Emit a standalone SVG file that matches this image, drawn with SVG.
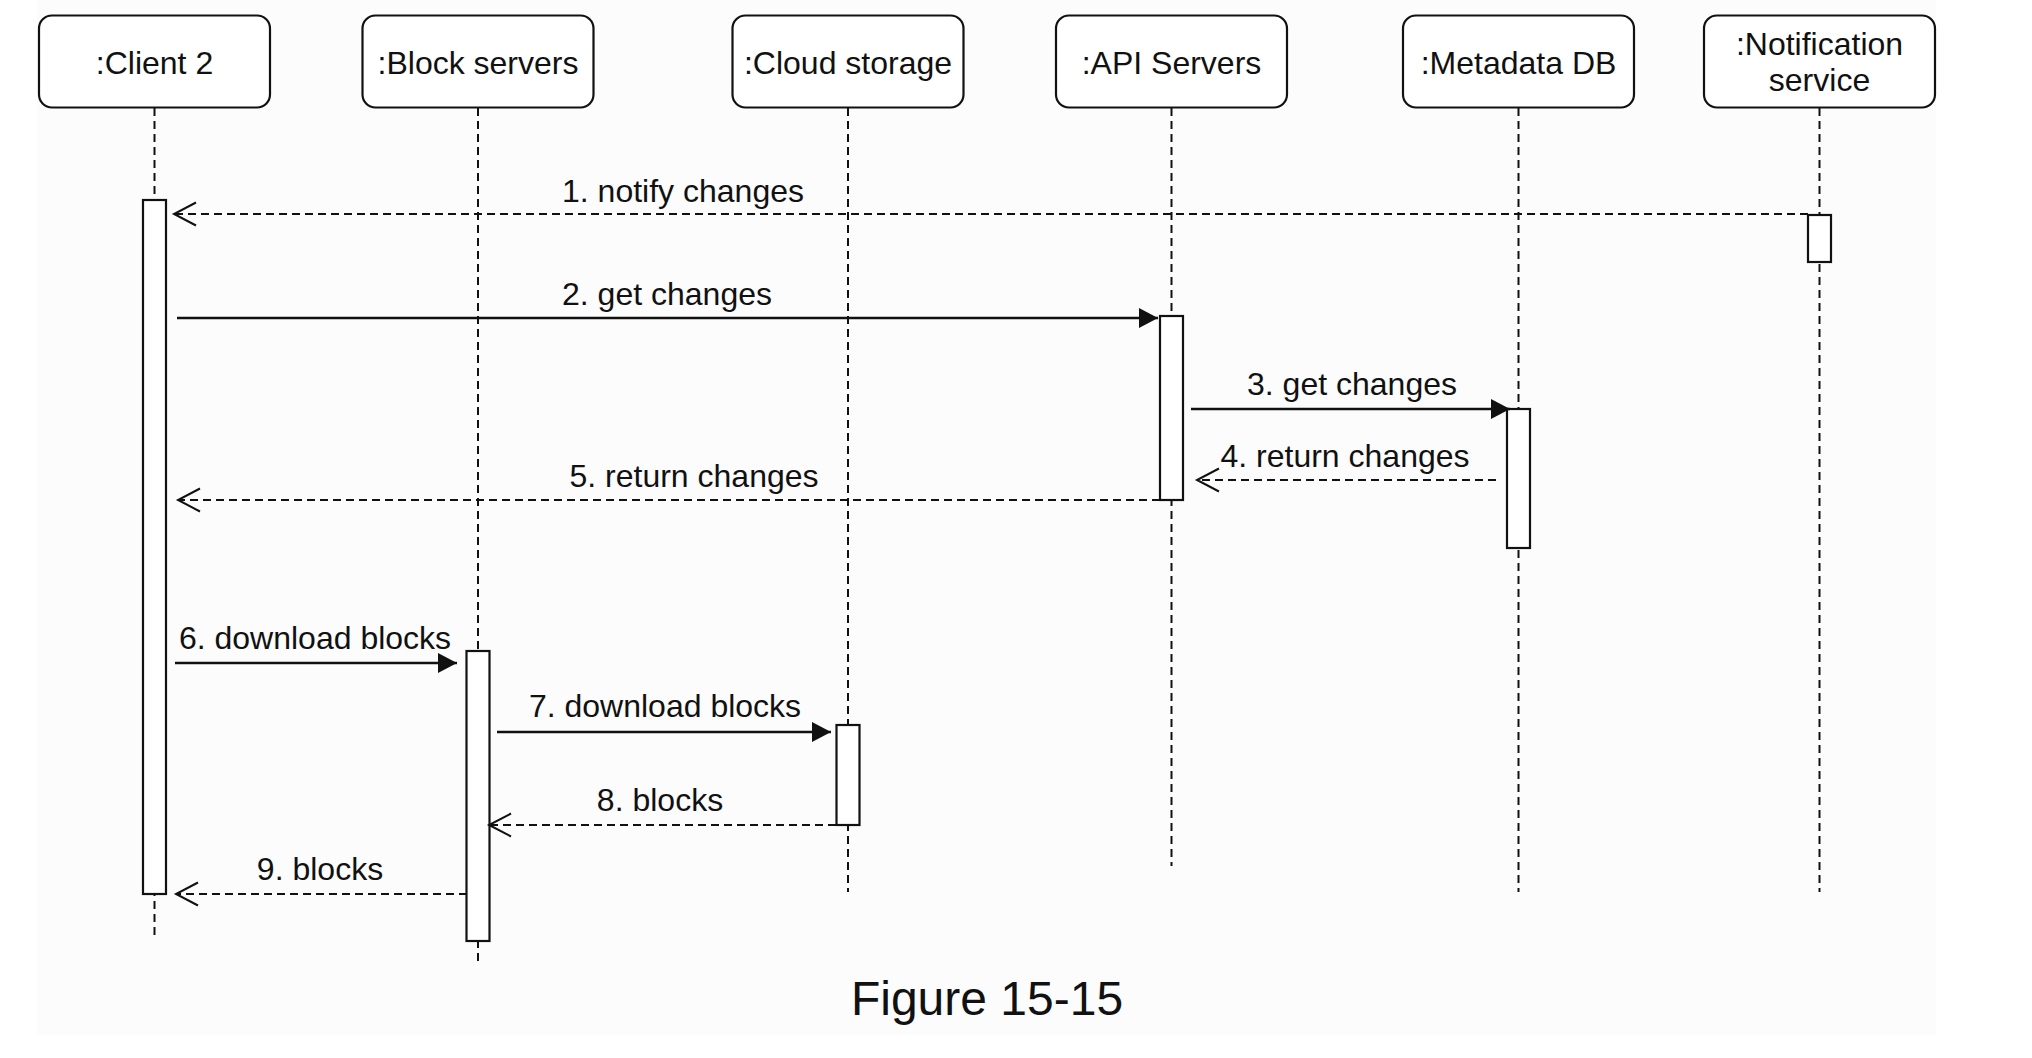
<svg xmlns="http://www.w3.org/2000/svg" width="2032" height="1058" viewBox="0 0 2032 1058">
  <style>
    .box { fill: #ffffff; stroke: #111; stroke-width: 2.2; }
    .act { fill: #ffffff; stroke: #111; stroke-width: 2.2; }
    .life { fill: none; stroke: #111; stroke-width: 2; stroke-dasharray: 8 5; }
    .msg { fill: none; stroke: #111; stroke-width: 2.6; }
    .ret { fill: none; stroke: #111; stroke-width: 2; stroke-dasharray: 8 5; }
    .lbl { font-family: "Liberation Sans", Arial, sans-serif; font-size: 32px; fill: #111; text-anchor: middle; }
    .cap { font-family: "Liberation Sans", Arial, sans-serif; font-size: 48px; fill: #111; text-anchor: middle; }
  </style>
  <defs>
    <marker id="filled" markerUnits="userSpaceOnUse" markerWidth="22" markerHeight="24" refX="20" refY="12" orient="auto" overflow="visible">
      <path d="M1,2 L20,12 L1,22 z" fill="#111" stroke="none"/>
    </marker>
    <marker id="open" markerUnits="userSpaceOnUse" markerWidth="26" markerHeight="28" refX="23" refY="14" orient="auto" overflow="visible">
      <path d="M1,2.5 L23,14 L1,25.5" fill="none" stroke="#111" stroke-width="2" stroke-dasharray="none"/>
    </marker>
  </defs>

  <rect x="0" y="0" width="2032" height="1058" fill="#ffffff"/>
  <rect x="37" y="0" width="1899" height="1035" fill="#fcfcfc"/>

  <g id="lifelines">
    <line class="life" x1="154.5" y1="108" x2="154.5" y2="936"/>
    <line class="life" x1="478" y1="108" x2="478" y2="962"/>
    <line class="life" x1="848" y1="108" x2="848" y2="892"/>
    <line class="life" x1="1171.5" y1="108" x2="1171.5" y2="866"/>
    <line class="life" x1="1518.5" y1="108" x2="1518.5" y2="892"/>
    <line class="life" x1="1819.5" y1="108" x2="1819.5" y2="892"/>
  </g>

  <g id="node-client2">
    <rect class="box" x="39" y="15.5" width="231" height="92" rx="13"/>
    <text class="lbl" x="154.5" y="74">:Client 2</text>
  </g>
  <g id="node-block-servers">
    <rect class="box" x="362.5" y="15.5" width="231" height="92" rx="13"/>
    <text class="lbl" x="478" y="74">:Block servers</text>
  </g>
  <g id="node-cloud-storage">
    <rect class="box" x="732.5" y="15.5" width="231" height="92" rx="13"/>
    <text class="lbl" x="848" y="74">:Cloud storage</text>
  </g>
  <g id="node-api-servers">
    <rect class="box" x="1056" y="15.5" width="231" height="92" rx="13"/>
    <text class="lbl" x="1171.5" y="74">:API Servers</text>
  </g>
  <g id="node-metadata-db">
    <rect class="box" x="1403" y="15.5" width="231" height="92" rx="13"/>
    <text class="lbl" x="1518.5" y="74">:Metadata DB</text>
  </g>
  <g id="node-notification-service">
    <rect class="box" x="1704" y="15.5" width="231" height="92" rx="13"/>
    <text class="lbl" x="1819.5" y="55">:Notification</text>
    <text class="lbl" x="1819.5" y="91">service</text>
  </g>

  <g id="activations">
    <rect class="act" x="143" y="200" width="23" height="694"/>
    <rect class="act" x="1808" y="215" width="23" height="47"/>
    <rect class="act" x="1160" y="316" width="23" height="184"/>
    <rect class="act" x="1507" y="409" width="23" height="139"/>
    <rect class="act" x="466.5" y="651" width="23" height="290"/>
    <rect class="act" x="836.5" y="725" width="23" height="100"/>
  </g>

  <g id="connectors">
    <line class="ret" x1="1808" y1="214" x2="174" y2="214" marker-end="url(#open)"/>
    <text class="lbl" x="683" y="202">1. notify changes</text>

    <line class="msg" x1="177" y1="318" x2="1158" y2="318" marker-end="url(#filled)"/>
    <text class="lbl" x="667" y="305">2. get changes</text>

    <line class="msg" x1="1191" y1="409" x2="1510" y2="409" marker-end="url(#filled)"/>
    <text class="lbl" x="1352" y="395">3. get changes</text>

    <line class="ret" x1="1496" y1="480" x2="1197" y2="480" marker-end="url(#open)"/>
    <text class="lbl" x="1345" y="467">4. return changes</text>

    <line class="ret" x1="1160" y1="500" x2="178" y2="500" marker-end="url(#open)"/>
    <text class="lbl" x="694" y="487">5. return changes</text>

    <line class="msg" x1="175" y1="663" x2="457" y2="663" marker-end="url(#filled)"/>
    <text class="lbl" x="315" y="649">6. download blocks</text>

    <line class="msg" x1="497" y1="732" x2="831" y2="732" marker-end="url(#filled)"/>
    <text class="lbl" x="665" y="717">7. download blocks</text>

    <line class="ret" x1="836" y1="825" x2="489" y2="825" marker-end="url(#open)"/>
    <text class="lbl" x="660" y="811">8. blocks</text>

    <line class="ret" x1="467" y1="894" x2="176" y2="894" marker-end="url(#open)"/>
    <text class="lbl" x="320" y="880">9. blocks</text>
  </g>

  <text class="cap" x="987" y="1015">Figure 15-15</text>
</svg>
